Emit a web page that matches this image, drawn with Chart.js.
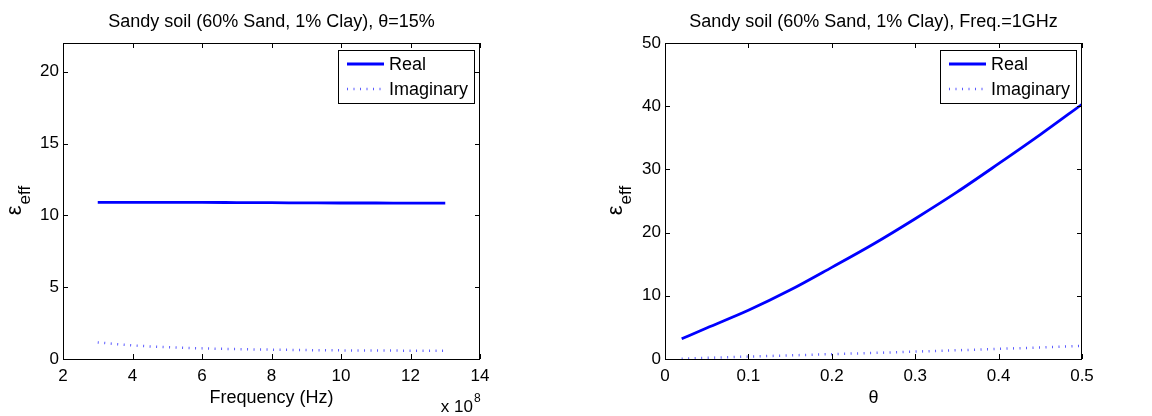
<!DOCTYPE html>
<html>
<head>
<meta charset="utf-8">
<script src="https://cdn.jsdelivr.net/npm/chart.js@4.4.1/dist/chart.umd.min.js"></script>
<style>
  html, body { margin: 0; padding: 0; background: #fff; }
  .wrap { display: flex; width: 1152px; height: 416px; }
  .box { position: relative; width: 576px; height: 416px; }
</style>
</head>
<body>
<div class="wrap">
  <div class="box"><canvas id="freqChart" width="576" height="416"></canvas></div>
  <div class="box"><canvas id="thetaChart" width="576" height="416"></canvas></div>
</div>
<script>
// left panel: frequency sweep at theta = 15% (x in units of 1e8 Hz)
const freqX = [3, 4, 5, 6, 7, 8, 9, 10, 11, 12, 13];
const freqReal = [10.9, 10.9, 10.9, 10.9, 10.89, 10.88, 10.87, 10.86, 10.86, 10.85, 10.85];
const freqImag = [1.15, 0.95, 0.82, 0.74, 0.69, 0.65, 0.62, 0.6, 0.59, 0.58, 0.57];
const freqXTicks = [2, 4, 6, 8, 10, 12, 14];
const freqYTicks = [0, 5, 10, 15, 20];

// right panel: moisture sweep at 1 GHz
const thetaX = [0.02, 0.05, 0.1, 0.15, 0.2, 0.25, 0.3, 0.35, 0.4, 0.45, 0.5];
const thetaReal = [3.2, 4.9, 7.7, 10.9, 14.5, 18.2, 22.2, 26.4, 30.9, 35.5, 40.3];
const thetaImag = [0.05, 0.18, 0.38, 0.57, 0.77, 0.96, 1.17, 1.38, 1.6, 1.83, 2.08];
const thetaXTicks = [0, 0.1, 0.2, 0.3, 0.4, 0.5];
const thetaYTicks = [0, 10, 20, 30, 40, 50];

const legendLabels = ["Real", "Imaginary"];
const FONT = "'Liberation Sans', Arial, sans-serif";
const BLUE = "#0000ff";
const DOT_BLUE = "#5a5aff";

const toPoints = (xs, ys) => xs.map((x, i) => ({ x: x, y: ys[i] }));

// matlab-ish frame: box, inward ticks, title, axis labels, legend
const matlabFrame = {
  id: "matlabFrame",
  afterDraw(chart, args, opts) {
    const ctx = chart.ctx;
    const a = chart.chartArea;
    const xs = chart.scales.x, ys = chart.scales.y;
    ctx.save();
    ctx.strokeStyle = "#000";
    ctx.lineWidth = 1;
    ctx.strokeRect(a.left + 0.5, a.top + 0.5, a.right - a.left - 1, a.bottom - a.top);
    const tl = 5;
    ctx.beginPath();
    opts.xTicks.forEach((v) => {
      const px = Math.round(xs.getPixelForValue(v)) + 0.5;
      ctx.moveTo(px, a.bottom); ctx.lineTo(px, a.bottom - tl);
      ctx.moveTo(px, a.top); ctx.lineTo(px, a.top + tl);
    });
    opts.yTicks.forEach((v) => {
      const py = Math.round(ys.getPixelForValue(v)) + 0.5;
      ctx.moveTo(a.left, py); ctx.lineTo(a.left + tl, py);
      ctx.moveTo(a.right, py); ctx.lineTo(a.right - tl, py);
    });
    ctx.stroke();

    const cx = (a.left + a.right) / 2;
    ctx.fillStyle = "#000";
    ctx.textAlign = "center";
    ctx.textBaseline = "alphabetic";
    ctx.font = "18px " + FONT;
    ctx.fillText(opts.title, cx, 27);
    ctx.fillText(opts.xLabel, cx, 403);

    if (opts.xExp) {
      ctx.font = "17px " + FONT;
      ctx.textAlign = "right";
      ctx.fillText("x 10", a.right - 7, 412);
      ctx.font = "12px " + FONT;
      ctx.textAlign = "left";
      ctx.fillText(opts.xExp, a.right - 6, 402);
    }

    // y label: epsilon with "eff" subscript, rotated
    ctx.save();
    ctx.translate(opts.yLabelX, (a.top + a.bottom) / 2);
    ctx.rotate(-Math.PI / 2);
    ctx.textAlign = "left";
    ctx.font = "22px " + FONT;
    const w1 = ctx.measureText("\u03b5").width;
    ctx.font = "17px " + FONT;
    const w2 = ctx.measureText("eff").width;
    const start = -(w1 + w2) / 2;
    ctx.font = "22px " + FONT;
    ctx.fillText("\u03b5", start, 0);
    ctx.font = "17px " + FONT;
    ctx.fillText("eff", start + w1 + 1, 9);
    ctx.restore();

    // legend box
    const lx = a.right - 142, ly = a.top + 7, lw = 136, lh = 53;
    ctx.fillStyle = "#fff";
    ctx.fillRect(lx, ly, lw, lh);
    ctx.strokeStyle = "#000";
    ctx.lineWidth = 1;
    ctx.strokeRect(lx + 0.5, ly + 0.5, lw, lh);
    const rows = [ly + 14, ly + 39];
    chart.data.datasets.forEach((ds, i) => {
      ctx.strokeStyle = ds.borderColor;
      ctx.lineWidth = ds.borderWidth;
      ctx.setLineDash(ds.borderDash || []);
      ctx.beginPath();
      ctx.moveTo(lx + 9, rows[i]);
      ctx.lineTo(lx + 46, rows[i]);
      ctx.stroke();
      ctx.setLineDash([]);
      ctx.fillStyle = "#000";
      ctx.font = "18px " + FONT;
      ctx.textAlign = "left";
      ctx.textBaseline = "middle";
      ctx.fillText(legendLabels[i], lx + 51, rows[i] + 1);
    });
    ctx.restore();
  }
};

function makeChart(id, cfg) {
  return new Chart(document.getElementById(id), {
    type: "scatter",
    data: {
      datasets: [
        {
          label: legendLabels[0],
          data: toPoints(cfg.x, cfg.real),
          showLine: true,
          borderColor: BLUE,
          borderWidth: 2.8,
          pointRadius: 0,
          cubicInterpolationMode: "monotone",
        },
        {
          label: legendLabels[1],
          data: toPoints(cfg.x, cfg.imag),
          showLine: true,
          borderColor: DOT_BLUE,
          borderWidth: 2.5,
          borderDash: [1, 5.5],
          borderCapStyle: "butt",
          pointRadius: 0,
          cubicInterpolationMode: "monotone",
        },
      ],
    },
    options: {
      responsive: false,
      animation: false,
      layout: { padding: { left: 0, right: cfg.padRight, top: 43, bottom: 0 } },
      plugins: {
        legend: { display: false },
        tooltip: { enabled: false },
        matlabFrame: cfg.frame,
      },
      scales: {
        x: {
          type: "linear",
          min: cfg.xTicks[0],
          max: cfg.xTicks[cfg.xTicks.length - 1],
          afterBuildTicks: (s) => { s.ticks = cfg.xTicks.map((v) => ({ value: v })); },
          afterFit: (s) => { s.height = 57; },
          grid: { display: false, drawTicks: false },
          border: { display: false },
          ticks: {
            color: "#000",
            padding: 7,
            maxRotation: 0,
            font: { family: FONT, size: 17 },
            callback: (v) => String(v),
          },
        },
        y: {
          type: "linear",
          min: 0,
          max: cfg.yMax,
          afterBuildTicks: (s) => { s.ticks = cfg.yTicks.map((v) => ({ value: v })); },
          afterFit: (s) => { s.width = cfg.left; },
          grid: { display: false, drawTicks: false },
          border: { display: false },
          ticks: {
            color: "#000",
            padding: 4,
            font: { family: FONT, size: 17 },
            callback: (v) => String(v),
          },
        },
      },
    },
    plugins: [matlabFrame],
  });
}

makeChart("freqChart", {
  x: freqX, real: freqReal, imag: freqImag,
  xTicks: freqXTicks, yTicks: freqYTicks, yMax: 22,
  left: 63, padRight: 96,
  frame: {
    title: "Sandy soil (60% Sand, 1% Clay), \u03b8=15%",
    xLabel: "Frequency (Hz)", xExp: "8", yLabelX: 21,
    xTicks: freqXTicks, yTicks: freqYTicks,
  },
});

makeChart("thetaChart", {
  x: thetaX, real: thetaReal, imag: thetaImag,
  xTicks: thetaXTicks, yTicks: thetaYTicks, yMax: 50,
  left: 89, padRight: 70,
  frame: {
    title: "Sandy soil (60% Sand, 1% Clay), Freq.=1GHz",
    xLabel: "\u03b8", xExp: null, yLabelX: 46,
    xTicks: thetaXTicks, yTicks: thetaYTicks,
  },
});
</script>
</body>
</html>
